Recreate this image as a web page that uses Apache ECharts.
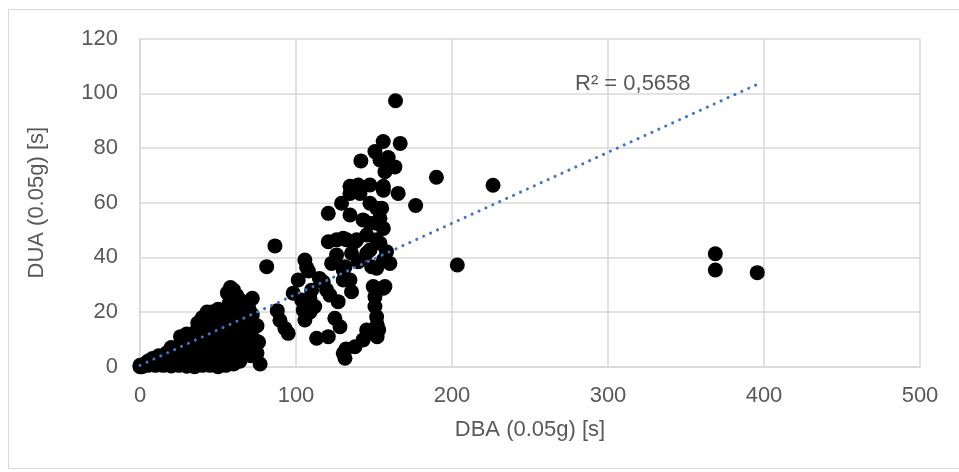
<!DOCTYPE html>
<html>
<head>
<meta charset="utf-8">
<script src="https://cdn.jsdelivr.net/npm/echarts@6/dist/echarts.min.js"></script>
<style>
html,body{margin:0;padding:0;background:#fff;}
#chart{width:959px;height:472px;}
</style>
</head>
<body>
<div id="chart"></div>
<script>
// DBA (0.05g) [s] values
const dba = [
0,0,1,2,3,5,5,7,8,10,10,12,12,15,15,17,17,20,20,20,22,23,25,25,26,26,28,28,
30,30,30,30,32,33,35,35,35,36,37,38,40,40,40,40,40,42,42,43,45,45,45,45,46,47,47,
50,50,50,50,50,50,52,52,55,55,55,55,56,56,57,58,60,61,60,60,61,62,62,60,
64,65,65,64,66,65,66,68,70,71,72,70,75,76,77,75,
18,22,27,32,33,37,38,42,43,48,53,47,53,57,58,63,67,73,72,70,
81.2,86.5,88,89.7,92.9,95,98.2,101.4,103.6,105.7,104.6,108.9,110,105.7,106.8,108,115,113.2,117.5,119.6,121.7,127,124.9,128.2,120.7,122.8,130.3,131.4,134.6,135.6,130.3,126,112,109,
130.3,131.4,132,137.8,143,145.3,149.5,150.6,150.6,151.7,149.5,152,153,156,157,152,
120.7,126,130.3,132.5,137.8,138.9,145.3,151.7,153.8,135.6,145.3,158,139.9,148.5,151.7,156,160.2,147.4,156,147.4,151.7,143,153.8,120.7,134.6,129.2,147.4,151.7,154.9,134.6,141,156,165.5,139.9,147.4,134.6,156,157,163.4,141.6,150.6,153.8,159.1,155.9,166.8,163.8,176.7,190,226.3,203.4,368.8,368.8,395.7
];
// DUA (0.05g) [s] values
const dua = [
0,0.5,0,0.3,1,0.5,2,1,3,0.5,2.5,1,4,0.5,3,5,1.5,0.3,3,7,5,1,0.5,4,8,11,2,6,
0.2,3,7,12,10,5,0,4,8,13,16,2,0.5,5,10,14,18,8,3,20,0.5,5,12,17,20,9,2,
0,4,8,13,17,21,11,2,0.5,6,10,15,20,27,23,29,1,5,9,13,18,22,26,28,
2,9,13,19,15,24,21,17,12,4,25,7,15,9,1,5,
2,2,3,1.5,8,6,10,12,16,14,16,5.5,6,3,12,11,6,10,19,21,
36.6,44.2,20.5,17,14,12.2,26.9,31.7,24.4,17.1,20.7,25,28,39,36.4,35,32.3,10.4,31,28.1,26.2,23.8,17.7,14.6,11,37.8,35.4,36.6,31.7,27.4,31.7,40.9,22,20,
4.9,3.1,6.5,7.3,9.8,13.4,29.3,25.6,22,18.3,12.2,11,13.5,28.7,29.3,15.5,
45.7,46.4,47,46.4,45.7,46.4,48.2,46.4,45.2,41.5,41.5,42.1,38.4,36.6,36,39,37.8,42.7,50.6,52.5,52.5,53.7,54.3,56.1,55.5,59.8,59.8,58,58,63.4,63.4,64.6,63.4,66.5,66.5,66,66,71.3,73.1,75.3,78.7,75.6,76.5,82.4,81.7,97.3,59,69.3,66.4,37.2,41.3,35.4,34.4
];
// linear trendline end points
const trendX = [0, 395.7];
const trendY = [0.5, 103.3];
const r2Label = 'R² = 0,5658';
const xTicks = {min:0, max:500, step:100};
const yTicks = {min:0, max:120, step:20};

const points = dba.map((x,i)=>[x, dua[i]]);
const trend = trendX.map((x,i)=>[x, trendY[i]]);

const FONT = 'Liberation Sans';
const chart = echarts.init(document.getElementById('chart'));
chart.setOption({
  animation:false,
  backgroundColor:'#fff',
  textStyle:{fontFamily:FONT},
  grid:{left:140, right:39, top:38.7, bottom:105.3},
  xAxis:{
    type:'value', min:xTicks.min, max:xTicks.max, interval:xTicks.step,
    name:'DBA (0.05g) [s]', nameLocation:'middle', nameGap:52,
    nameTextStyle:{fontSize:22, color:'#595959', fontFamily:FONT},
    axisLine:{show:true, lineStyle:{color:'#d9d9d9', width:1.5}},
    axisTick:{show:false},
    axisLabel:{fontSize:22, color:'#595959', margin:18, fontFamily:FONT},
    splitLine:{show:true, lineStyle:{color:'#d9d9d9', width:1.5}}
  },
  yAxis:{
    type:'value', min:yTicks.min, max:yTicks.max, interval:yTicks.step,
    name:'DUA (0.05g) [s]', nameLocation:'middle', nameGap:92,
    nameTextStyle:{fontSize:22, color:'#595959', fontFamily:FONT},
    axisLine:{show:true, lineStyle:{color:'#d9d9d9', width:1.5}},
    axisTick:{show:false},
    axisLabel:{fontSize:22, color:'#595959', margin:22, fontFamily:FONT},
    splitLine:{show:true, lineStyle:{color:'#d9d9d9', width:1.5}}
  },
  graphic:[
    {type:'rect', shape:{x:8.5, y:9.5, width:1000, height:459}, style:{fill:'none', stroke:'#d9d9d9', lineWidth:1}, z:-1},
    {type:'text', left:575, top:73, style:{text:r2Label, font:'22px "Liberation Sans"', fill:'#595959'}, z:10}
  ],
  series:[
    {type:'scatter', data:points, symbol:'circle', symbolSize:15, itemStyle:{color:'#000', opacity:1}, z:2},
    {type:'line', data:trend, symbol:'none', z:3,
     lineStyle:{color:'#4472C4', width:3, type:[0.1,7.5], cap:'round'}}
  ]
});
</script>
</body>
</html>
